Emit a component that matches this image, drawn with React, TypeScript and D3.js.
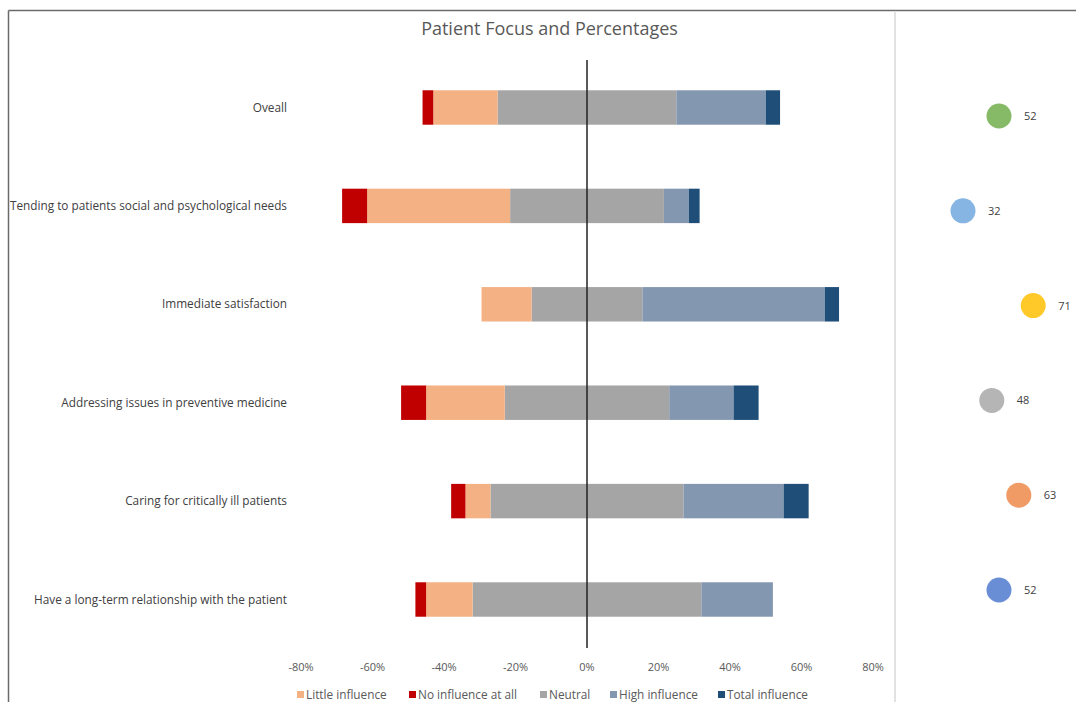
import React from "react";
import * as d3 from "d3";

// Survey items, top to bottom
const categories = [
  "Oveall",
  "Tending to patients social and psychological needs",
  "Immediate satisfaction",
  "Addressing issues in preventive medicine",
  "Caring for critically ill patients",
  "Have a long-term relationship with the patient",
];

// Response shares in percent
const noInfluence = [3, 7, 0, 7, 4, 3];
const littleInfluence = [18, 40, 14, 22, 7, 13];
const neutral = [50, 43, 31, 46, 54, 64];
const highInfluence = [25, 7, 51, 18, 28, 20];
const totalInfluence = [4, 3, 4, 7, 7, 0];

// Overall score per item
const scores = [52, 32, 71, 48, 63, 52];

const xTicks = [-80, -60, -40, -20, 0, 20, 40, 60, 80];

const seriesNames = [
  "Little influence",
  "No influence at all",
  "Neutral",
  "High influence",
  "Total influence",
];

const seriesColors: Record<string, string> = {
  "Little influence": "#F4B183",
  "No influence at all": "#C00000",
  Neutral: "#A5A5A5",
  "High influence": "#8497B0",
  "Total influence": "#1F4E79",
};

const scoreColors = ["#86BA66", "#86B5E3", "#FFC929", "#B5B5B5", "#F09B65", "#6A8ED6"];

const W = 1076;
const H = 702;
const FONT = "'Open Sans', 'DejaVu Sans', sans-serif";

type Seg = { key: string; x0: number; x1: number };

function segmentsFor(i: number): Seg[] {
  const half = neutral[i] / 2;
  const segs: Seg[] = [];
  // left side: neutral half, then little, then none
  let l = -half;
  segs.push({ key: "Neutral", x0: l, x1: half });
  segs.push({ key: "Little influence", x0: l - littleInfluence[i], x1: l });
  l -= littleInfluence[i];
  segs.push({ key: "No influence at all", x0: l - noInfluence[i], x1: l });
  // right side: high, then total
  let r = half;
  segs.push({ key: "High influence", x0: r, x1: r + highInfluence[i] });
  r += highInfluence[i];
  segs.push({ key: "Total influence", x0: r, x1: r + totalInfluence[i] });
  return segs.filter((s) => s.x1 - s.x0 > 0);
}

export default function App() {
  const x = d3.scaleLinear().domain([-80, 80]).range([301, 873]);
  const y = d3
    .scaleBand<string>()
    .domain(categories)
    .range([58.3, 648.7])
    .paddingInner(0.65)
    .paddingOuter(0.325);

  const sx = d3.scaleLinear().domain([0, 100]).range([905.4, 1085.4]);
  const sy = d3.scalePoint<string>().domain(categories).range([116, 590]);

  const fmt = (v: number) => `${v}%`;

  // legend layout
  const legendX = [297, 409, 540, 610, 718];

  return (
    <svg
      width={W}
      height={H}
      style={{ position: "absolute", left: 0, top: 0, background: "#fff" }}
      fontFamily={FONT}
    >
      <rect x={0} y={0} width={W} height={H} fill="#fff" />
      {/* frame */}
      <line x1={8.5} y1={10.5} x2={W} y2={10.5} stroke="#6b6b6b" strokeWidth={1.5} />
      <line x1={8.5} y1={10.5} x2={8.5} y2={H} stroke="#6b6b6b" strokeWidth={1.5} />
      <line x1={895} y1={11} x2={895} y2={H} stroke="#e2e2e2" strokeWidth={2} />

      {/* title */}
      <text x={549.5} y={35} textAnchor="middle" fontSize={18} fill="#595959">
        Patient Focus and Percentages
      </text>

      {/* bars */}
      {categories.map((c, i) => (
        <g key={c}>
          {segmentsFor(i).map((s) => (
            <rect
              key={s.key}
              x={x(s.x0)}
              y={y(c)!}
              width={x(s.x1) - x(s.x0)}
              height={y.bandwidth()}
              fill={seriesColors[s.key]}
            />
          ))}
          <text
            x={287}
            y={y(c)! + y.bandwidth() / 2 + 4}
            textAnchor="end"
            fontSize={11.8}
            fill="#404040"
          >
            {c}
          </text>
        </g>
      ))}

      {/* zero line */}
      <line x1={x(0)} y1={60} x2={x(0)} y2={648} stroke="#222" strokeWidth={1.5} />

      {/* x tick labels */}
      {xTicks.map((t) => (
        <text key={t} x={x(t)} y={671} textAnchor="middle" fontSize={11} fill="#595959">
          {fmt(t)}
        </text>
      ))}

      {/* legend */}
      {seriesNames.map((n, i) => (
        <g key={n}>
          <rect x={legendX[i]} y={691} width={7} height={7} fill={seriesColors[n]} />
          <text x={legendX[i] + 9} y={699} fontSize={11.8} fill="#595959">
            {n}
          </text>
        </g>
      ))}

      {/* score dots */}
      {categories.map((c, i) => (
        <g key={"s" + c}>
          <circle cx={sx(scores[i])} cy={sy(c)!} r={12.5} fill={scoreColors[i]} />
          <text
            x={sx(scores[i]) + 25}
            y={sy(c)! + 4}
            fontSize={11}
            fill="#404040"
          >
            {scores[i]}
          </text>
        </g>
      ))}
    </svg>
  );
}
